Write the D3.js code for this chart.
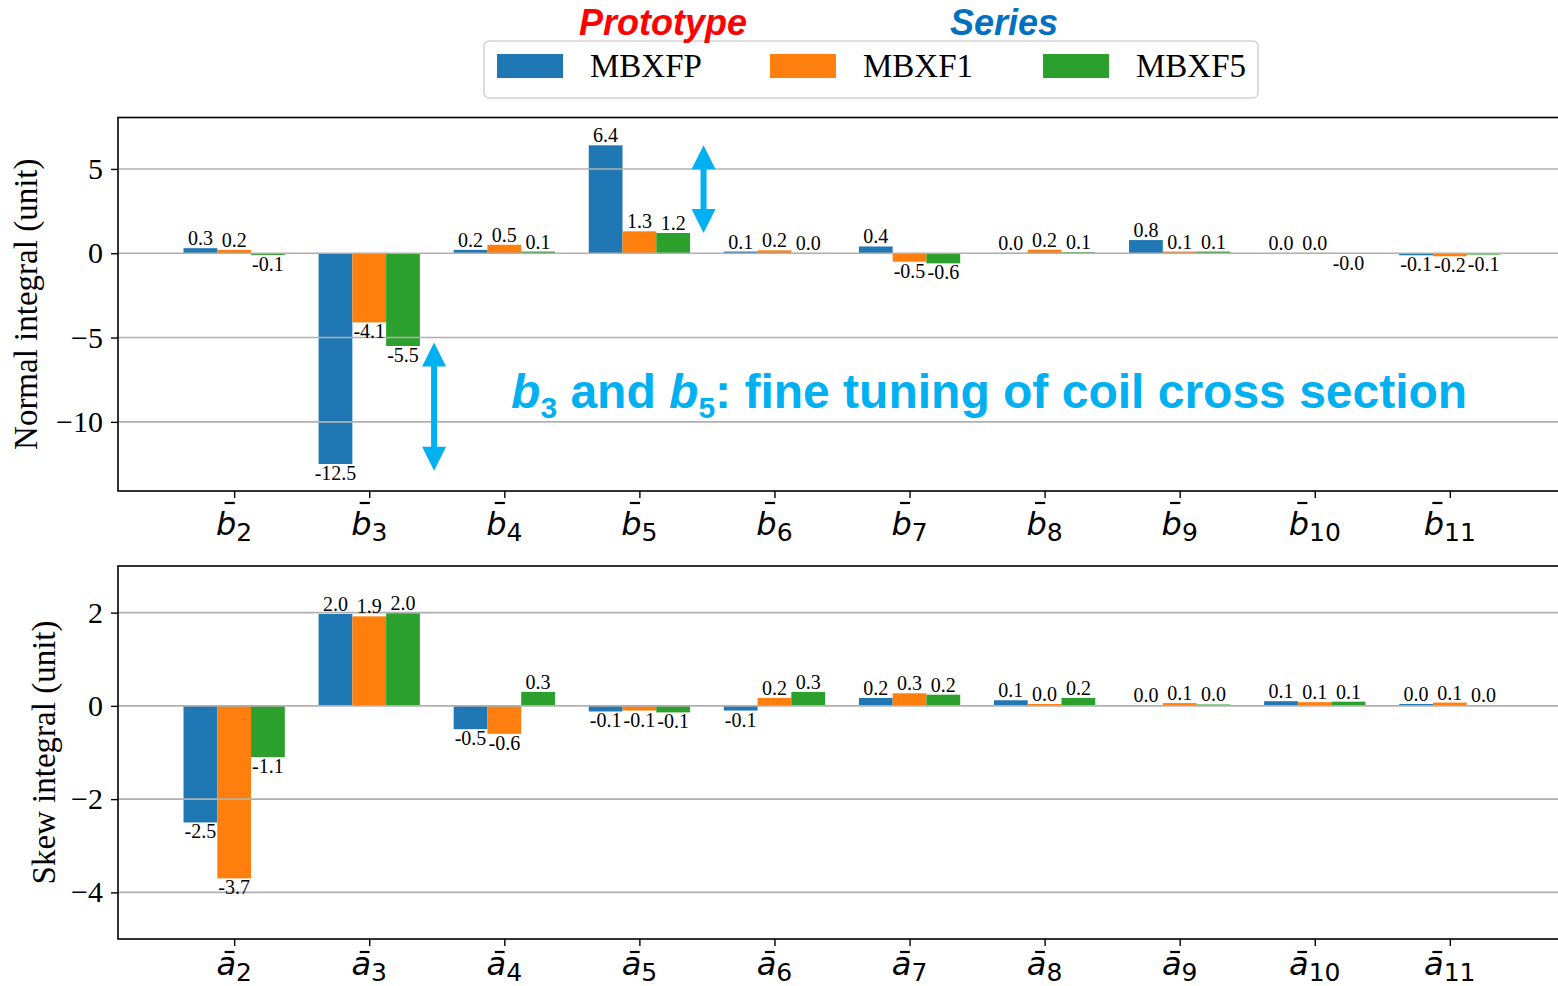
<!DOCTYPE html>
<html>
<head>
<meta charset="utf-8">
<script src="https://cdn.jsdelivr.net/npm/d3@7"></script>
<style>
  html, body { margin: 0; padding: 0; background: #fff; }
  svg { display: block; }
</style>
</head>
<body>
<svg id="chart" width="1558" height="986"></svg>
<script>
// Harmonic orders on the x axis and the three magnets compared
const orders = [2, 3, 4, 5, 6, 7, 8, 9, 10, 11];
const seriesNames = ["MBXFP", "MBXF1", "MBXF5"];
const seriesColors = ["#1f77b4", "#ff7f0e", "#2ca02c"];

// Normal integral harmonics b_n (units)
const normalMBXFP = [0.30, -12.50, 0.20, 6.40, 0.10, 0.40, 0.02, 0.78, 0.01, -0.12];
const normalMBXF1 = [0.20, -4.10, 0.50, 1.30, 0.17, -0.50, 0.21, 0.10, 0.02, -0.18];
const normalMBXF5 = [-0.10, -5.50, 0.10, 1.20, 0.02, -0.60, 0.06, 0.10, -0.02, -0.08];

// Skew integral harmonics a_n (units)
const skewMBXFP = [-2.50, 1.97, -0.50, -0.12, -0.10, 0.17, 0.12, 0.01, 0.10, 0.04];
const skewMBXF1 = [-3.70, 1.92, -0.60, -0.10, 0.17, 0.27, 0.04, 0.06, 0.08, 0.07];
const skewMBXF5 = [-1.10, 1.99, 0.30, -0.14, 0.30, 0.24, 0.17, 0.03, 0.09, 0.01];

// Axis ticks and limits
const normalTicks = [-10, -5, 0, 5];
const skewTicks = [-4, -2, 0, 2];
const normalLimits = [-14.1, 8.05];
const skewLimits = [-5, 3];
const indexLimits = [-0.86, 9.86];

// Double arrows marking the b3 and b5 spread: [order, offset, from, to]
const spreadArrows = [
  [3, 0.48, -5.3, -12.9],
  [5, 0.475, 6.4, 1.2]
];

const SERIF = "'Liberation Serif','Times New Roman',Times,serif";
const SANS = "'Liberation Sans',Arial,Helvetica,sans-serif";
const MATH = "'DejaVu Sans',sans-serif";
const ACCENT = "#00b0f0";

const svg = d3.select("#chart");

const x = d3.scaleLinear().domain(indexLimits).range([118, 1566]);
const band = d3.scaleBand().domain(seriesNames).range([-0.375, 0.375]);
const barW = x(band.bandwidth()) - x(0);

const panels = [
  { letter: "b", ylabel: "Normal integral (unit)", ticks: normalTicks, limits: normalLimits,
    values: [normalMBXFP, normalMBXF1, normalMBXF5], top: 117.5, bottom: 491, ylabelX: 37 },
  { letter: "a", ylabel: "Skew integral (unit)", ticks: skewTicks, limits: skewLimits,
    values: [skewMBXFP, skewMBXF1, skewMBXF5], top: 566, bottom: 939, ylabelX: 55 }
];

const fmt = v => v.toFixed(1);
const tickFmt = d => d < 0 ? "\u2212" + Math.abs(d) : String(d);

panels.forEach(p => {
  const y = d3.scaleLinear().domain(p.limits).range([p.bottom, p.top]);
  p.y = y;
  const g = svg.append("g");

  // bars
  seriesNames.forEach((name, s) => {
    const data = p.values[s].map((v, i) => ({ i, v }));
    g.append("g").selectAll("rect").data(data).join("rect")
      .attr("x", d => x(d.i + band(name)))
      .attr("width", barW)
      .attr("y", d => y(Math.max(0, d.v)))
      .attr("height", d => Math.abs(y(d.v) - y(0)))
      .attr("fill", seriesColors[s]);
  });

  // grid drawn over the bars
  g.append("g").selectAll("line").data(p.ticks).join("line")
    .attr("x1", x(indexLimits[0])).attr("x2", x(indexLimits[1]))
    .attr("y1", d => y(d)).attr("y2", d => y(d))
    .attr("stroke", "#b0b0b0").attr("stroke-width", 1.6);

  // value labels
  seriesNames.forEach((name, s) => {
    const data = p.values[s].map((v, i) => ({ i, v }));
    g.append("g").selectAll("text").data(data).join("text")
      .attr("x", d => x(d.i + band(name) + band.bandwidth() / 2))
      .attr("y", d => d.v >= 0 ? y(d.v) - 3 : y(d.v) + 16)
      .attr("text-anchor", "middle")
      .attr("font-family", SERIF)
      .attr("font-size", 20)
      .attr("fill", "#000")
      .text(d => fmt(d.v));
  });

  // y axis
  const ya = g.append("g").attr("transform", `translate(${x(indexLimits[0])},0)`)
    .call(d3.axisLeft(y).tickValues(p.ticks).tickSize(7).tickPadding(8).tickFormat(tickFmt));
  ya.select(".domain").remove();
  ya.selectAll("line").attr("stroke", "#000").attr("stroke-width", 1.4);
  ya.selectAll("text").attr("font-family", SERIF).attr("font-size", 30).attr("fill", "#000");

  // x axis ticks
  const xa = g.append("g").attr("transform", `translate(0,${p.bottom})`)
    .call(d3.axisBottom(x).tickValues(d3.range(orders.length)).tickSize(7).tickFormat(""));
  xa.select(".domain").remove();
  xa.selectAll("line").attr("stroke", "#000").attr("stroke-width", 1.4);

  // frame
  g.append("rect")
    .attr("x", x(indexLimits[0])).attr("y", p.top)
    .attr("width", x(indexLimits[1]) - x(indexLimits[0])).attr("height", p.bottom - p.top)
    .attr("fill", "none").attr("stroke", "#000").attr("stroke-width", 1.6);

  // x tick labels: letter with overbar and subscript order
  const baseY = p.letter === "b" ? p.bottom + 44 : p.bottom + 36;
  orders.forEach((n, i) => {
    const lg = g.append("g");
    const t = lg.append("text").attr("y", baseY).attr("font-family", MATH).attr("fill", "#000");
    t.append("tspan").attr("font-size", 32).attr("font-style", "italic").text(p.letter);
    t.append("tspan").attr("font-size", 25).attr("dy", 6).text(n);
    const w = t.node().getComputedTextLength();
    const lw = t.node().getSubStringLength(0, 1);
    const x0 = x(i) - w / 2;
    t.attr("x", x0);
    const barTop = p.letter === "b" ? baseY - 32 : baseY - 23;
    lg.append("line")
      .attr("x1", x0 + lw * 0.42).attr("x2", x0 + lw * 0.92)
      .attr("y1", barTop).attr("y2", barTop)
      .attr("stroke", "#000").attr("stroke-width", 2.2);
  });

  // y label
  svg.append("text")
    .attr("transform", `translate(${p.ylabelX},${(p.top + p.bottom) / 2}) rotate(-90)`)
    .attr("text-anchor", "middle")
    .attr("font-family", SERIF).attr("font-size", 33).attr("fill", "#000")
    .text(p.ylabel);
});

// double arrows on the normal panel
const yN = panels[0].y;
spreadArrows.forEach(([order, off, from, to]) => {
  const cx = x(orders.indexOf(order) + off);
  const y1 = yN(from), y2 = yN(to);
  const hl = 24, hw = 12, sw = 3;
  const path = d3.path();
  path.moveTo(cx, y1);
  path.lineTo(cx + hw, y1 + hl);
  path.lineTo(cx + sw, y1 + hl);
  path.lineTo(cx + sw, y2 - hl);
  path.lineTo(cx + hw, y2 - hl);
  path.lineTo(cx, y2);
  path.lineTo(cx - hw, y2 - hl);
  path.lineTo(cx - sw, y2 - hl);
  path.lineTo(cx - sw, y1 + hl);
  path.lineTo(cx - hw, y1 + hl);
  path.closePath();
  svg.append("path").attr("d", path.toString()).attr("fill", ACCENT);
});

// annotation on the normal panel
const note = svg.append("text")
  .attr("x", x(2.05)).attr("y", yN(-9.2))
  .attr("font-family", SANS).attr("font-weight", "bold").attr("font-size", 48)
  .attr("fill", ACCENT);
note.append("tspan").attr("font-style", "italic").text("b");
note.append("tspan").attr("font-size", 30).attr("dy", 10).text("3");
note.append("tspan").attr("dy", -10).text(" and ");
note.append("tspan").attr("font-style", "italic").text("b");
note.append("tspan").attr("font-size", 30).attr("dy", 10).text("5");
note.append("tspan").attr("dy", -10).text(": fine tuning of coil cross section");

// legend
const legend = svg.append("g");
legend.append("rect")
  .attr("x", 484).attr("y", 41).attr("width", 774).attr("height", 57).attr("rx", 5)
  .attr("fill", "#fff").attr("stroke", "#d4d4d4").attr("stroke-width", 1.6);
const legendStep = 273;
seriesNames.forEach((name, s) => {
  const lx = 497 + s * legendStep;
  legend.append("rect").attr("x", lx).attr("y", 54).attr("width", 66).attr("height", 24)
    .attr("fill", seriesColors[s]);
  legend.append("text").attr("x", lx + 93).attr("y", 77)
    .attr("font-family", SERIF).attr("font-size", 33).attr("fill", "#000").text(name);
});

// group headings above the legend
svg.append("text").attr("x", 663).attr("y", 35).attr("text-anchor", "middle")
  .attr("font-family", SANS).attr("font-weight", "bold").attr("font-style", "italic")
  .attr("font-size", 36).attr("fill", "#ff0000").text("Prototype");
svg.append("text").attr("x", 1004).attr("y", 35).attr("text-anchor", "middle")
  .attr("font-family", SANS).attr("font-weight", "bold").attr("font-style", "italic")
  .attr("font-size", 36).attr("fill", "#0070c0").text("Series");
</script>
</body>
</html>
